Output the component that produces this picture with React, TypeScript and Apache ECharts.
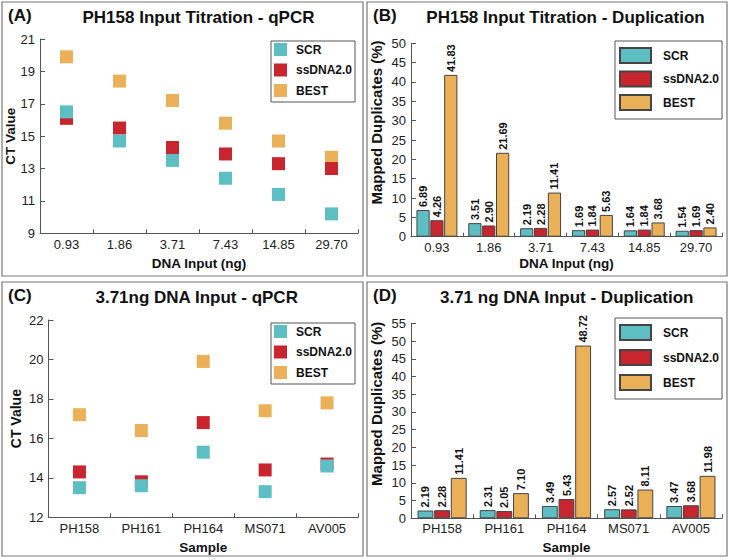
import React, { useEffect, useRef } from "react";
import * as echarts from "echarts";

// ---------- data ----------
const titrationInputs = ["0.93", "1.86", "3.71", "7.43", "14.85", "29.70"];
const samples = ["PH158", "PH161", "PH164", "MS071", "AV005"];
const seriesNames = ["SCR", "ssDNA2.0", "BEST"];

// (A) qPCR CT values across DNA input
const ctTitrationSCR = [16.5, 14.7, 13.5, 12.4, 11.4, 10.2];
const ctTitrationSsDNA = [16.1, 15.5, 14.3, 13.9, 13.3, 13.0];
const ctTitrationBEST = [19.9, 18.4, 17.2, 15.8, 14.7, 13.7];

// (B) duplication across DNA input
const dupTitrationSCR = [6.89, 3.51, 2.19, 1.69, 1.64, 1.54];
const dupTitrationSsDNA = [4.26, 2.9, 2.28, 1.84, 1.84, 1.69];
const dupTitrationBEST = [41.83, 21.69, 11.41, 5.63, 3.68, 2.4];

// (C) qPCR CT values per sample
const ctSampleSCR = [13.5, 13.6, 15.3, 13.3, 14.6];
const ctSampleSsDNA = [14.3, 13.8, 16.8, 14.4, 14.7];
const ctSampleBEST = [17.2, 16.4, 19.9, 17.4, 17.8];

// (D) duplication per sample
const dupSampleSCR = [2.19, 2.31, 3.49, 2.57, 3.47];
const dupSampleSsDNA = [2.28, 2.05, 5.43, 2.52, 3.68];
const dupSampleBEST = [11.41, 7.1, 48.72, 8.11, 11.98];

// ---------- styling ----------
const FONT = "'Liberation Sans', Arial, Helvetica, sans-serif";
const COLORS = ["#5DBFC3", "#C9252F", "#EAB159"];
const AXIS_COLOR = "#555";

const grids = [
  { left: 40, top: 39, width: 318, height: 194.3 },
  { left: 411, top: 43.3, width: 311, height: 193.4 },
  { left: 48.5, top: 320, width: 309.5, height: 197.3 },
  { left: 411, top: 323.3, width: 311, height: 195 },
];

function xAxisCfg(gridIndex: number, data: string[], name: string, nameGap: number, margin: number) {
  return {
    type: "category",
    gridIndex,
    data,
    boundaryGap: true,
    axisLine: { show: true, lineStyle: { color: AXIS_COLOR, width: 1 } },
    axisTick: { show: true, inside: true, length: 4, lineStyle: { color: AXIS_COLOR } },
    axisLabel: { fontSize: 13, color: "#222", margin, fontFamily: FONT },
    splitLine: { show: false },
    name,
    nameLocation: "middle",
    nameGap,
    nameMoveOverlap: false,
    nameTextStyle: { fontWeight: "bold", fontSize: 13.5, color: "#111", fontFamily: FONT },
  };
}

function yAxisCfg(
  gridIndex: number,
  min: number,
  max: number,
  interval: number,
  name: string,
  nameGap: number,
  nameSize: number,
  nameShift: number
) {
  return {
    type: "value",
    gridIndex,
    min,
    max,
    interval,
    axisLine: { show: true, lineStyle: { color: AXIS_COLOR, width: 1 } },
    axisTick: { show: true, inside: true, length: 5, lineStyle: { color: AXIS_COLOR } },
    axisLabel: { fontSize: 13, color: "#222", margin: 5, fontFamily: FONT },
    splitLine: { show: false },
    name,
    nameLocation: "middle",
    nameGap,
    nameMoveOverlap: false,
    nameTextStyle: {
      fontWeight: "bold",
      fontSize: nameSize,
      color: "#111",
      fontFamily: FONT,
      padding: [0, 0, 0, nameShift],
    },
  };
}

function scatter(name: string, data: number[], color: string, axisIndex: number, z: number) {
  return {
    type: "scatter",
    name,
    xAxisIndex: axisIndex,
    yAxisIndex: axisIndex,
    data,
    symbol: "rect",
    symbolSize: 13,
    z,
    itemStyle: { color, opacity: 1 },
  };
}

function bars(name: string, data: number[], color: string, axisIndex: number) {
  return {
    type: "bar",
    name,
    xAxisIndex: axisIndex,
    yAxisIndex: axisIndex,
    data,
    barGap: "5%",
    barCategoryGap: "21%",
    itemStyle: { color, borderColor: "#444", borderWidth: 1 },
    label: {
      show: true,
      position: "top",
      rotate: 90,
      align: "left",
      verticalAlign: "middle",
      distance: 3,
      fontSize: 11,
      fontWeight: "bold",
      color: "#111",
      fontFamily: FONT,
      formatter: (p: any) => Number(p.value).toFixed(2),
    },
  };
}

const legendFormatter = (name: string) => name.split("|")[0];

function scatterLegend(suffix: string, left: number, top: number) {
  return {
    orient: "vertical",
    left,
    top,
    data: seriesNames.map((n) => n + "|" + suffix),
    icon: "rect",
    itemWidth: 13,
    itemHeight: 13,
    itemGap: 7.5,
    padding: [2, 3, 5, 3],
    borderColor: AXIS_COLOR,
    borderWidth: 1,
    backgroundColor: "#fff",
    formatter: legendFormatter,
    textStyle: { fontWeight: "bold", fontSize: 12, color: "#111", fontFamily: FONT, padding: [0, 0, 0, 4] },
  };
}

function barLegend(suffix: string, left: number, top: number, gap: number) {
  return {
    orient: "vertical",
    left,
    top,
    data: seriesNames.map((n) => n + "|" + suffix),
    icon: "rect",
    itemWidth: 31,
    itemHeight: 15,
    itemGap: gap,
    padding: [6, 3, 8, 4],
    borderColor: AXIS_COLOR,
    borderWidth: 1,
    backgroundColor: "#fff",
    formatter: legendFormatter,
    textStyle: { fontWeight: "bold", fontSize: 12, color: "#111", fontFamily: FONT, padding: [0, 0, 0, 7] },
  };
}

function panelText(text: string, x: number, y: number, align: string, size: number) {
  return {
    type: "text",
    x,
    y,
    z: 100,
    style: {
      text,
      font: `bold ${size}px ${FONT}`,
      fill: "#111",
      align,
      verticalAlign: "middle",
    },
  };
}

function panelBorder(x: number, y: number, w: number, h: number) {
  return {
    type: "rect",
    z: -10,
    shape: { x, y, width: w, height: h },
    style: { fill: "none", stroke: "#777", lineWidth: 1.2 },
  };
}

export default function App() {
  const ref = useRef<HTMLDivElement>(null);

  useEffect(() => {
    if (!ref.current) return;
    const chart = echarts.init(ref.current, undefined, { renderer: "svg" });

    const option: any = {
      animation: false,
      backgroundColor: "#fff",
      textStyle: { fontFamily: FONT },
      grid: grids.map((g) => ({ ...g, outerBoundsMode: "none", containLabel: false })),
      xAxis: [
        xAxisCfg(0, titrationInputs, "DNA Input (ng)", 23, 5),
        xAxisCfg(1, titrationInputs, "DNA Input (ng)", 20, 4),
        xAxisCfg(2, samples, "Sample", 23, 5),
        xAxisCfg(3, samples, "Sample", 22, 4),
      ],
      yAxis: [
        yAxisCfg(0, 9, 21, 2, "CT Value", 23, 13.5, 0),
        yAxisCfg(1, 0, 50, 5, "Mapped Duplicates (%)", 27, 15, 35),
        yAxisCfg(2, 12, 22, 2, "CT Value", 26, 14, 0),
        yAxisCfg(3, 0, 55, 5, "Mapped Duplicates (%)", 27, 15, 34),
      ],
      legend: [
        scatterLegend("A", 271, 41),
        barLegend("B", 615, 41, 6.5),
        scatterLegend("C", 271, 323),
        barLegend("D", 615, 318, 8),
      ],
      series: [
        scatter("SCR|A", ctTitrationSCR, COLORS[0], 0, 4),
        scatter("ssDNA2.0|A", ctTitrationSsDNA, COLORS[1], 0, 3),
        scatter("BEST|A", ctTitrationBEST, COLORS[2], 0, 2),
        bars("SCR|B", dupTitrationSCR, COLORS[0], 1),
        bars("ssDNA2.0|B", dupTitrationSsDNA, COLORS[1], 1),
        bars("BEST|B", dupTitrationBEST, COLORS[2], 1),
        scatter("SCR|C", ctSampleSCR, COLORS[0], 2, 4),
        scatter("ssDNA2.0|C", ctSampleSsDNA, COLORS[1], 2, 3),
        scatter("BEST|C", ctSampleBEST, COLORS[2], 2, 2),
        bars("SCR|D", dupSampleSCR, COLORS[0], 3),
        bars("ssDNA2.0|D", dupSampleSsDNA, COLORS[1], 3),
        bars("BEST|D", dupSampleBEST, COLORS[2], 3),
      ],
      graphic: [
        panelBorder(2, 2, 361, 274),
        panelBorder(367, 2, 360, 274),
        panelBorder(2, 282, 361, 274),
        panelBorder(367, 282, 360, 274),
        panelText("(A)", 8, 15, "left", 17),
        panelText("PH158 Input Titration - qPCR", 198.5, 17, "center", 17),
        panelText("(B)", 373, 15, "left", 17),
        panelText("PH158 Input Titration - Duplication", 565.5, 17, "center", 17),
        panelText("(C)", 8, 295, "left", 17),
        panelText("3.71ng DNA Input - qPCR", 196.7, 297.5, "center", 17),
        panelText("(D)", 373, 295, "left", 17),
        panelText("3.71 ng DNA Input - Duplication", 566.7, 297.5, "center", 17),
      ],
    };

    chart.setOption(option);
    return () => chart.dispose();
  }, []);

  return (
    <div
      ref={ref}
      style={{ position: "absolute", left: 0, top: 0, width: 730, height: 560, background: "#fff" }}
    />
  );
}
